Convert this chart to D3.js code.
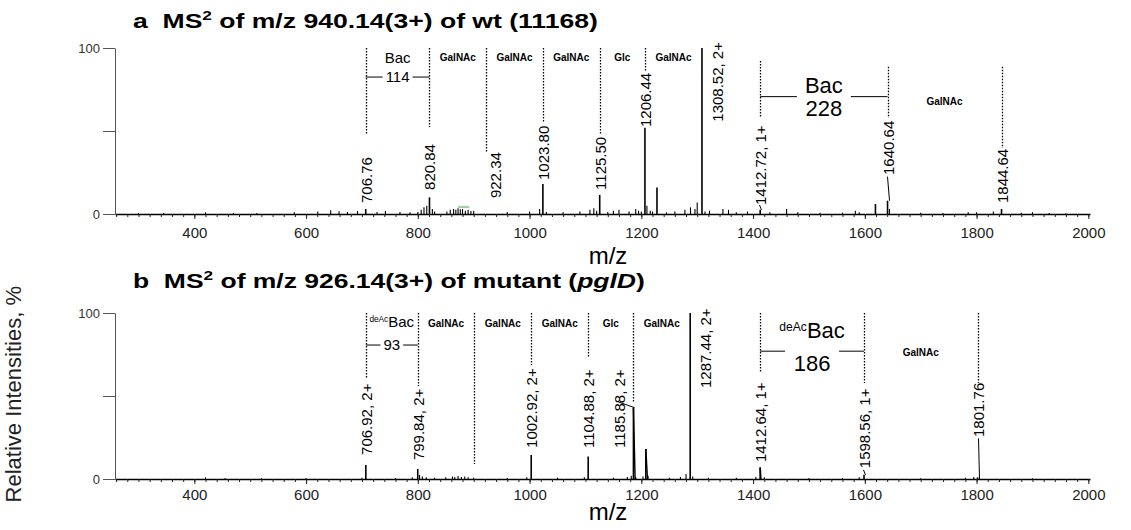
<!DOCTYPE html>
<html>
<head>
<meta charset="utf-8">
<script src="https://cdn.jsdelivr.net/npm/d3@7"></script>
<style>
  body { margin: 0; background: #fff; }
  text { font-family: Arial, "Liberation Sans", sans-serif; }
</style>
</head>
<body>
<div id="frame"></div>
<script>
const width = 1131
const height = 530
const font = 'Arial, "Liberation Sans", sans-serif'

// m/z range shown on both x axes
const mzDomain = [258, 2003]
const mzTicks = [400, 600, 800, 1000, 1200, 1400, 1600, 1800, 2000]
const yTicks = [0, 50, 100]

// wt (11168) spectrum: [m/z, relative intensity %]
const peaksA = [
  [706.76, 3], [820.84, 10], [1023.80, 18], [1125.50, 11.5], [1206.44, 52],
  [1228, 16], [1308.52, 100], [1412.72, 2.5], [1619, 6], [1640.64, 8], [1844.64, 3]
]
const noiseA = [
  [300, 0.5], [345, 0.6], [420, 1.0], [470, 0.5], [512, 0.6], [579, 1.0], [621, 1.5],
  [644, 2.2], [659, 1.6], [674, 1.2], [692, 1.8], [727, 1.2], [742, 1.8], [768, 1.2],
  [786, 1.0], [800, 1.2], [806, 2.5], [811, 4], [816, 5], [826, 3], [830, 1.5],
  [852, 1.5], [858, 2.5], [864, 3], [868, 2.5], [872, 3.5], [876, 2.8], [880, 3],
  [885, 2], [890, 2.5], [895, 1.8], [900, 2], [960, 1.2], [1000, 1.5], [1018, 3],
  [1030, 1.2], [1060, 1], [1090, 1.5], [1108, 2.5], [1115, 3.5], [1120, 2], [1140, 1.2],
  [1150, 2], [1160, 2.5], [1178, 1.5], [1190, 3], [1195, 2], [1200, 1.5], [1210, 5],
  [1216, 2], [1220, 1.5], [1245, 1], [1260, 1.5], [1278, 2.5], [1288, 4], [1296, 3],
  [1300, 7], [1314, 1.5], [1322, 2], [1346, 3], [1356, 2.5], [1370, 1], [1390, 1.5],
  [1430, 1], [1460, 3], [1480, 1], [1520, 0.8], [1560, 0.8], [1583, 2], [1590, 1],
  [1644, 3], [1700, 0.8], [1740, 0.6], [1785, 1], [1800, 1], [1830, 1.5], [1880, 0.7],
  [1900, 1], [1930, 0.6], [1960, 0.5]
]
const greenA = [[872, 4.2], [892, 4.2]]

// pglD mutant spectrum: [m/z, relative intensity %, tail width in m/z]
const peaksB = [
  [706.92, 8.5, 0], [799.84, 6, 0], [1002.92, 14.5, 0], [1104.88, 13.5, 0],
  [1185.88, 43, 3], [1208, 18, 3], [1287.44, 100, 0], [1412.64, 7, 1.5],
  [1598.56, 2.5, 0], [1801.76, 1, 0]
]
const noiseB = [
  [420, 1], [455, 0.6], [520, 0.5], [600, 0.6], [700, 0.8], [760, 0.6], [790, 1],
  [803, 2.5], [808, 1.5], [815, 1], [830, 0.8], [850, 1], [862, 1.5], [866, 1.2],
  [872, 1.8], [878, 1.2], [884, 1.5], [890, 1], [900, 0.8], [960, 0.6], [995, 1],
  [1050, 0.8], [1098, 1], [1150, 0.8], [1175, 1.2], [1182, 2], [1190, 1.2], [1203, 1.5],
  [1212, 2], [1250, 0.8], [1270, 1.2], [1280, 3], [1292, 1.5], [1320, 0.8], [1370, 0.8],
  [1405, 1.2], [1420, 1], [1500, 0.6], [1560, 0.6], [1590, 1], [1700, 0.5], [1780, 0.8],
  [1795, 1.2], [1900, 0.5]
]

// peak annotations: dotted guide (in %), label foot (in %), leader to peak (in %)
const annotA = [
  { mz: 706.76, text: '706.76', dot: [100, 47.6], lab: 6.6 },
  { mz: 820.84, text: '820.84', dot: [100, 52.4], lab: 14.5 },
  { mz: 922.34, text: '922.34', dot: [100, 37.3], lab: 9.6, dx: 9 },
  { mz: 1023.80, text: '1023.80', dot: [100, 54.8], lab: 20.5 },
  { mz: 1125.50, text: '1125.50', dot: [100, 47.6], lab: 14.5 },
  { mz: 1206.44, text: '1206.44', dot: [100, 85.5], lab: 52.4 },
  { mz: 1308.52, text: '1308.52, 2+', lab: 55.6, dx: 15 },
  { mz: 1412.72, text: '1412.72, 1+', dot: [92.2, 58.6], lab: 5.4, lead: [5.4, 2.5] },
  { mz: 1640.64, text: '1640.64', dot: [88.7, 57.8], lab: 23.5, lead: [22.5, 8] },
  { mz: 1844.64, text: '1844.64', dot: [88.7, 39.8], lab: 6.6 }
]
const annotB = [
  { mz: 706.92, text: '706.92, 2+', dot: [100, 60.8], lab: 14.5 },
  { mz: 799.84, text: '799.84, 2+', dot: [100, 56], lab: 11.4 },
  { mz: 901.34, text: null, dot: [100, 9] },
  { mz: 1002.92, text: '1002.92, 2+', dot: [100, 68.7], lab: 18.7 },
  { mz: 1104.88, text: '1104.88, 2+', dot: [100, 73.7], lab: 18.7 },
  { mz: 1185.88, text: '1185.88, 2+', dot: [100, 46.4], lab: 18.7, dx: -14, lead: [46.4, 43] },
  { mz: 1287.44, text: '1287.44, 2+', lab: 54.8, dx: 15 },
  { mz: 1412.64, text: '1412.64, 1+', dot: [100, 64.5], lab: 10.2 },
  { mz: 1598.56, text: '1598.56, 1+', dot: [100, 57.8], lab: 6.5, lead: [5.5, 2.5] },
  { mz: 1801.76, text: '1801.76', dot: [100, 57.8], lab: 25.3, lead: [24.5, 0] }
]

// residue losses between fragment ions
const residuesA = [
  { from: 706.76, to: 820.84, name: 'Bac', mass: '114', kind: 'small' },
  { from: 820.84, to: 922.34, name: 'GalNAc' },
  { from: 922.34, to: 1023.80, name: 'GalNAc' },
  { from: 1023.80, to: 1125.50, name: 'GalNAc' },
  { from: 1125.50, to: 1206.44, name: 'Glc' },
  { from: 1206.44, to: 1308.52, name: 'GalNAc' },
  { from: 1412.72, to: 1640.64, name: 'Bac', mass: '228', kind: 'large' },
  { from: 1640.64, to: 1844.64, name: 'GalNAc', kind: 'low' }
]
const residuesB = [
  { from: 706.92, to: 799.84, name: 'Bac', pre: 'deAc', mass: '93', kind: 'small' },
  { from: 799.84, to: 901.34, name: 'GalNAc' },
  { from: 901.34, to: 1002.92, name: 'GalNAc' },
  { from: 1002.92, to: 1104.88, name: 'GalNAc' },
  { from: 1104.88, to: 1185.88, name: 'Glc' },
  { from: 1185.88, to: 1287.44, name: 'GalNAc' },
  { from: 1412.64, to: 1598.56, name: 'Bac', pre: 'deAc', mass: '186', kind: 'large' },
  { from: 1598.56, to: 1801.76, name: 'GalNAc', kind: 'low' }
]

const panels = [
  {
    letter: 'a', title: ' of m/z 940.14(3+) of wt (', strain: '11168', italic: false,
    peaks: peaksA, noise: noiseA, annot: annotA, residues: residuesA, green: greenA,
    top: 48, bottom: 214, titleY: 28, titleW: 465, tickY: 13.5, labelY: 256,
    levels: { res: 94, smallName: 94, smallMass: 82.5, largeName: 77.7, largeMass: 63.9, largeLine: 70.7, low: 67.7 }
  },
  {
    letter: 'b', title: ' of m/z 926.14(3+) of mutant (', strain: 'pglD', italic: true,
    peaks: peaksB.map(d => [d[0], d[1]]), tails: peaksB, noise: noiseB, annot: annotB, residues: residuesB,
    top: 313, bottom: 479, titleY: 288, titleW: 512, tickY: 10.5, labelY: 512,
    levels: { res: 93.4, smallName: 91.6, smallMass: 80.7, largeName: 85, largeMass: 70, largeLine: 77, low: 76 }
  }
]

const x = d3.scaleLinear().domain(mzDomain).range([115, 1090])

const svg = d3.select('#frame')
  .append('svg')
  .attr('width', width)
  .attr('height', height)
  .attr('font-family', font)

function drawTitle(g, p) {
  const t = g.append('text')
    .attr('x', 0)
    .attr('y', 0)
    .attr('font-size', 20)
    .attr('font-weight', 'bold')
    .style('white-space', 'pre')
  t.append('tspan').text(`${p.letter}  MS`)
  t.append('tspan').attr('font-size', 13).attr('dy', -8).text('2')
  t.append('tspan').attr('dy', 8).text(p.title)
  t.append('tspan').attr('font-style', p.italic ? 'italic' : null).text(p.strain)
  t.append('tspan').text(')')
  const w = t.node().getComputedTextLength()
  t.attr('transform', `translate(133,${p.titleY}) scale(${p.titleW / w},1)`)
}

function drawAxes(g, p, y) {
  const xg = g.append('g').attr('transform', `translate(0,${p.bottom})`)
  xg.call(d3.axisBottom(x).tickValues(d3.range(260, 2001, 20)).tickSize(3).tickSizeOuter(0).tickFormat(''))
  xg.select('.domain').attr('stroke-width', 1.6)
  xg.selectAll('.tick line').attr('stroke', '#222')

  const lg = g.append('g').attr('transform', `translate(0,${p.bottom})`)
  lg.call(d3.axisBottom(x).tickValues(mzTicks).tickSize(5).tickSizeOuter(0)
    .tickPadding(p.tickY - 5).tickFormat(d3.format('d')))
  lg.select('.domain').remove()
  lg.selectAll('.tick line').attr('stroke', '#222')
  lg.selectAll('.tick text').attr('font-size', 15).attr('font-family', font).attr('fill', '#222')

  g.append('text')
    .attr('x', 608)
    .attr('y', p.labelY)
    .attr('dy', '0.35em')
    .attr('text-anchor', 'middle')
    .attr('font-size', 24)
    .text('m/z')

  const yg = g.append('g').attr('transform', 'translate(115,0)')
  yg.call(d3.axisLeft(y).tickValues(yTicks).tickSize(12).tickSizeOuter(0).tickPadding(3)
    .tickFormat(d => d === 50 ? '' : d))
  yg.select('.domain').attr('stroke', '#555')
  yg.selectAll('.tick line').attr('stroke', '#555')
  yg.selectAll('.tick text').attr('font-size', 13).attr('font-family', font).attr('fill', '#333')
}

function drawSpectrum(g, p, y) {
  g.append('g')
    .selectAll('line')
    .data(p.noise)
    .join('line')
    .attr('x1', d => x(d[0]))
    .attr('x2', d => x(d[0]))
    .attr('y1', y(0))
    .attr('y2', d => y(d[1]))
    .attr('stroke', '#000')
    .attr('stroke-width', 1.1)

  g.append('g')
    .selectAll('line')
    .data(p.peaks)
    .join('line')
    .attr('x1', d => x(d[0]))
    .attr('x2', d => x(d[0]))
    .attr('y1', y(0))
    .attr('y2', d => y(d[1]))
    .attr('stroke', '#000')
    .attr('stroke-width', 1.6)

  if (p.tails) {
    g.append('g')
      .selectAll('path')
      .data(p.tails.filter(d => d[2] > 0))
      .join('path')
      .attr('d', d => `M${x(d[0])},${y(d[1])}L${x(d[0] + d[2])},${y(0)}`)
      .attr('stroke', '#000')
      .attr('stroke-width', 1.4)
      .attr('fill', 'none')
  }

  if (p.green) {
    g.append('line')
      .attr('x1', x(p.green[0][0]))
      .attr('x2', x(p.green[1][0]))
      .attr('y1', y(p.green[0][1]))
      .attr('y2', y(p.green[1][1]))
      .attr('stroke', '#7cc47c')
      .attr('stroke-width', 1.5)
  }
}

function drawAnnotations(g, p, y) {
  p.annot.forEach((a) => {
    const ax = Math.round(x(a.mz)) + 0.5
    if (a.dot) {
      g.append('line')
        .attr('x1', ax).attr('x2', ax)
        .attr('y1', y(a.dot[0])).attr('y2', y(a.dot[1]))
        .attr('stroke', '#000')
        .attr('stroke-width', 1.3)
        .attr('stroke-dasharray', '1.5,1.5')
    }
    if (a.text) {
      g.append('text')
        .attr('transform', `translate(${ax + (a.dx || 0)},${y(a.lab)}) rotate(-90)`)
        .attr('dy', '0.36em')
        .attr('font-size', 15)
        .text(a.text)
    }
    if (a.lead) {
      const lx = ax + (a.dx || 0)
      g.append('line')
        .attr('x1', a.lead[1] === 0 ? ax : lx - 1).attr('x2', ax + 1)
        .attr('y1', y(a.lead[0])).attr('y2', y(a.lead[1]))
        .attr('stroke', '#000')
        .attr('stroke-width', 1)
    }
  })
}

function residueName(g, r, cx, cy, size) {
  const t = g.append('text')
    .attr('x', cx)
    .attr('y', cy)
    .attr('dy', '0.35em')
    .attr('text-anchor', 'middle')
    .attr('font-size', size)
  if (r.pre) {
    t.append('tspan').attr('font-size', size * 0.55).attr('dy', -size * 0.3).text(r.pre)
    t.append('tspan').attr('dy', size * 0.3).text(r.name)
  } else {
    t.text(r.name)
  }
  return t
}

function bracket(g, x1, x2, cx, cy, half) {
  g.append('line').attr('x1', x1).attr('x2', cx - half).attr('y1', cy).attr('y2', cy)
    .attr('stroke', '#000').attr('stroke-width', 1)
  g.append('line').attr('x1', cx + half).attr('x2', x2).attr('y1', cy).attr('y2', cy)
    .attr('stroke', '#000').attr('stroke-width', 1)
}

function drawResidues(g, p, y) {
  const L = p.levels
  p.residues.forEach((r) => {
    const x1 = x(r.from)
    const x2 = x(r.to)
    const cx = (x1 + x2) / 2
    if (r.kind === 'small') {
      residueName(g, r, cx, y(L.smallName), 15)
      const m = g.append('text')
        .attr('x', cx).attr('y', y(L.smallMass)).attr('dy', '0.35em')
        .attr('text-anchor', 'middle').attr('font-size', 15).text(r.mass)
      bracket(g, x1, x2, cx, y(L.smallMass), m.node().getComputedTextLength() / 2 + 3)
    } else if (r.kind === 'large') {
      residueName(g, r, cx, y(L.largeName), 22)
      g.append('text')
        .attr('x', cx).attr('y', y(L.largeMass)).attr('dy', '0.35em')
        .attr('text-anchor', 'middle').attr('font-size', 22).text(r.mass)
      bracket(g, x1, x2, cx, y(L.largeLine), 27)
    } else {
      g.append('text')
        .attr('x', cx)
        .attr('y', y(r.kind === 'low' ? L.low : L.res))
        .attr('dy', '0.35em')
        .attr('text-anchor', 'middle')
        .attr('font-size', 10)
        .attr('font-weight', 'bold')
        .text(r.name)
    }
  })
}

panels.forEach((p) => {
  const y = d3.scaleLinear().domain([0, 100]).range([p.bottom, p.top])
  const g = svg.append('g')
  drawTitle(g, p)
  drawAxes(g, p, y)
  drawSpectrum(g, p, y)
  drawAnnotations(g, p, y)
  drawResidues(g, p, y)
})

svg.append('text')
  .attr('transform', 'translate(13,286) rotate(-90)')
  .attr('dy', '0.35em')
  .attr('text-anchor', 'end')
  .attr('font-size', 22)
  .attr('fill', '#222')
  .text('Relative Intensities, %')
</script>
</body>
</html>
